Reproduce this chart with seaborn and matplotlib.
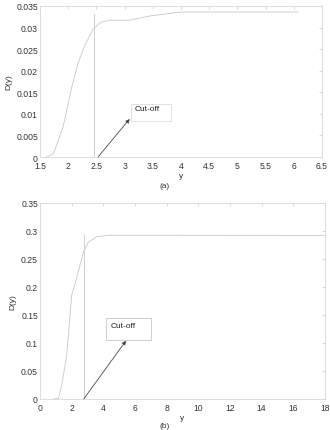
import numpy as np
import pandas as pd
import seaborn as sns
import matplotlib.pyplot as plt

# Panel (a) curve
ya = [1.62, 1.74, 1.91, 2.06, 2.18, 2.30, 2.44, 2.52, 2.59, 2.74, 3.09, 3.45, 4.0, 6.07]
Da = [0.0, 0.0008, 0.0070, 0.0160, 0.0220, 0.0260, 0.0296, 0.0306, 0.0313, 0.0317, 0.0317, 0.0327, 0.0336, 0.0336]
cut_a = 2.46

# Panel (b) curve
yb = [0.84, 1.16, 1.37, 1.68, 2.0, 2.32, 2.74, 3.05, 3.58, 4.42, 18.0]
Db = [0.0, 0.001, 0.024, 0.077, 0.185, 0.217, 0.262, 0.280, 0.290, 0.2925, 0.2920]
cut_b = 2.76

sns.set_style("white")
plt.rcParams['font.family'] = ['Liberation Sans', 'DejaVu Sans']

curve_col = '#c3c7dc'
grey = '#cfcfcf'

fig = plt.figure(figsize=(3.3, 4.31), dpi=100)
ax1 = fig.add_axes([40/330, 1 - 158/431, 282/330, 151/431])
ax2 = fig.add_axes([40/330, 1 - 400/431, 285/330, 196/431])


def style(ax):
    for s in ax.spines.values():
        s.set_color('#d8d8d8')
        s.set_linewidth(0.6)
    ax.tick_params(direction='in', length=2, width=0.5, color='#c8c8c8',
                   labelsize=6.2, top=True, right=True,
                   labelcolor='#333333')
    ax.tick_params(axis='x', pad=3)
    ax.tick_params(axis='y', pad=1.5)
    ax.set_xlabel('y', fontsize=6, color='#333333', labelpad=1.5)
    ax.set_ylabel('D(y)', fontsize=6, color='#333333', labelpad=3)


# (a)
sns.lineplot(x=ya, y=Da, ax=ax1, color=curve_col, lw=0.6)
ax1.plot([cut_a, cut_a], [0, 0.0332], color=grey, lw=0.7)
ax1.annotate('', xy=(3.09, 0.0088), xytext=(2.53, 0.0),
             arrowprops=dict(arrowstyle='-|>', color='#444444', lw=0.5,
                             mutation_scale=6, shrinkA=0, shrinkB=0))
ax1.plot([2.53, 3.05], [0.0, 0.0084], color=grey, lw=0.6)
ax1.add_patch(plt.Rectangle((3.12, 0.0084), 0.71, 0.0040, fill=False,
                            ec='#d5d5d5', lw=0.5))
ax1.text(3.18, 0.0112, 'Cut-off', fontsize=6, color='#222222', va='center')
ax1.set_xlim(1.5, 6.5)
ax1.set_ylim(0, 0.035)
ax1.set_xticks(np.arange(1.5, 6.51, 0.5))
ax1.set_xticklabels(['1.5', '2', '2.5', '3', '3.5', '4', '4.5', '5', '5.5', '6', '6.5'])
ax1.set_yticks(np.arange(0, 0.0351, 0.005))
ax1.set_yticklabels(['0', '0.005', '0.01', '0.015', '0.02', '0.025', '0.03', '0.035'])
style(ax1)
fig.text(165/330, 1 - 187/431, '(a)', fontsize=6, ha='center', va='center', color='#333333')

# (b)
sns.lineplot(x=yb, y=Db, ax=ax2, color=curve_col, lw=0.6)
ax2.plot([cut_b, cut_b], [0, 0.295], color=grey, lw=0.7)
ax2.annotate('', xy=(5.43, 0.104), xytext=(2.76, 0.0),
             arrowprops=dict(arrowstyle='-|>', color='#444444', lw=0.5,
                             mutation_scale=6, shrinkA=0, shrinkB=0))
ax2.plot([2.76, 5.3], [0.0, 0.099], color=grey, lw=0.6)
ax2.add_patch(plt.Rectangle((4.17, 0.105), 2.82, 0.039, fill=False,
                            ec='#c8c8c8', lw=0.6))
ax2.text(4.45, 0.131, 'Cut-off', fontsize=6, color='#222222', va='center')
ax2.set_xlim(0, 18)
ax2.set_ylim(0, 0.35)
ax2.set_xticks(np.arange(0, 18.1, 2))
ax2.set_yticks(np.arange(0, 0.351, 0.05))
ax2.set_yticklabels(['0', '0.05', '0.1', '0.15', '0.2', '0.25', '0.3', '0.35'])
style(ax2)
fig.text(165/330, 1 - 430/431, '(b)', fontsize=6, ha='center', va='bottom', color='#333333')

fig.savefig('out.png', dpi=100)
